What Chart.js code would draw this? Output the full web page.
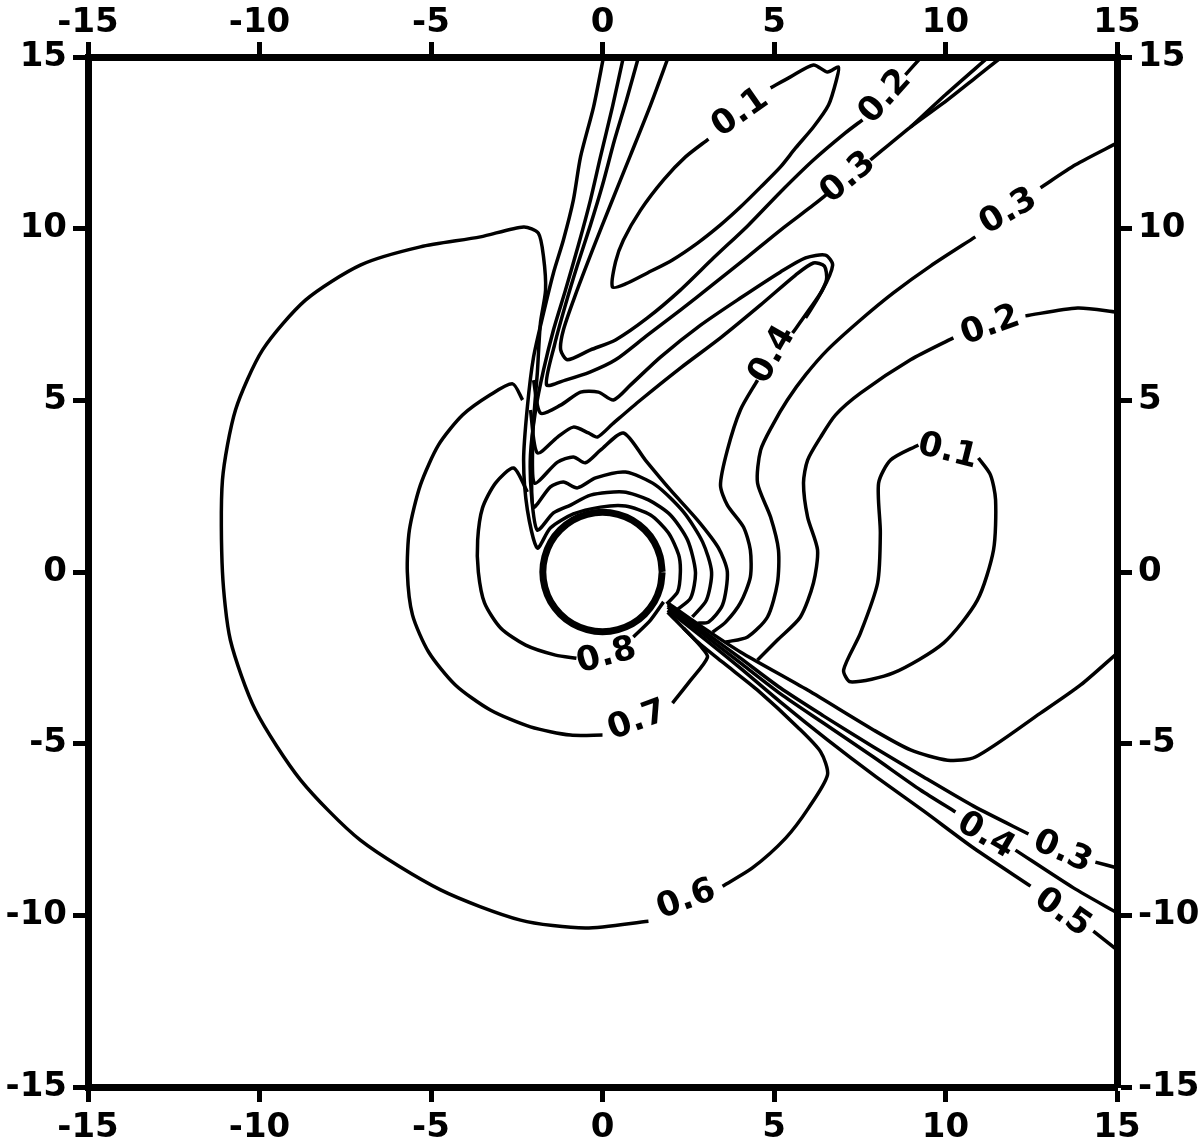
<!DOCTYPE html>
<html>
<head>
<meta charset="utf-8">
<script src="https://cdn.jsdelivr.net/npm/chart.js@4.4.1/dist/chart.umd.min.js"></script>
<style>
  html, body { margin: 0; padding: 0; background: #fff; }
  #wrap { width: 1200px; height: 1142px; }
</style>
</head>
<body>
<div id="wrap"><canvas id="contourChart"></canvas></div>
<script>
// contour lines, [x, y] pairs
const ring = [[1.74,0],[1.68,0.45],[1.51,0.87],[1.23,1.23],[0.87,1.51],[0.45,1.68],[0,1.74],[-0.45,1.68],[-0.87,1.51],[-1.23,1.23],[-1.51,0.87],[-1.68,0.45],[-1.74,0],[-1.68,-0.45],[-1.51,-0.87],[-1.23,-1.23],[-0.87,-1.51],[-0.45,-1.68],[0,-1.74],[0.45,-1.68],[0.87,-1.51],[1.23,-1.23],[1.51,-0.87],[1.68,-0.45],[1.74,0]];

const spikeA = [[0.03,15],[-0.26,13.55],[-0.64,12.09],[-0.85,10.83],[-1.14,9.67],[-1.43,8.71],[-1.72,7.54],[-2.01,6.26],[-2.19,4.81],[-2.30,3.26],[-2.19,1.81],[-1.90,0.70],[-1.52,1.28],[-0.85,1.69],[-0.06,1.89],[0.67,1.92],[1.40,1.66],[1.92,1.14],[2.22,0.50],[2.27,0],[2.19,-0.58],[1.87,-0.93]];
const spikeB = [[0.61,15],[0.29,13.55],[-0.06,12.09],[-0.35,10.84],[-0.70,9.53],[-1.08,8.21],[-1.43,7.05],[-1.72,5.88],[-1.95,4.72],[-2.10,3.41],[-2.07,2.24],[-1.90,1.22],[-1.43,1.72],[-0.93,1.95],[-0.35,2.24],[0.61,2.33],[1.34,2.10],[1.98,1.66],[2.48,0.93],[2.71,0],[2.57,-0.76],[2.16,-1.11]];

const c03uA = [[1.05,15],[0.70,13.75],[0.35,12.58],[0,11.27],[-0.35,10.11],[-0.73,8.94],[-1.08,7.78],[-1.40,6.61],[-1.63,5.45],[-1.08,5.59],[-0.35,5.83],[0.38,6.18],[1.31,6.90],[2.27,7.63],[3.24,8.39],[4.23,9.18],[5.19,9.96],[6.15,10.69],[6.59,11.04]];
const c03uB = [[7.81,12.0],[8.98,12.96],[10.06,13.75],[10.87,14.39],[11.60,14.97]];
const c03uTwin = [[8.98,12.96],[10.0,13.9],[11.22,14.97]];

const c02uA = [[1.92,15],[1.40,13.60],[0.82,12.15],[0.23,10.69],[-0.29,9.38],[-0.79,8.07],[-1.14,7.05],[-1.22,6.47],[-1.02,6.18],[-0.35,6.47],[0.38,6.76],[1.31,7.40],[2.27,8.21],[3.24,9.15],[4.23,10.08],[5.19,11.07],[6.15,12.0],[7.08,12.79],[7.58,13.17]];
const c02uB = [[8.83,14.48],[9.27,14.97]];

const c01u = [[4.90,14.10],[5.48,14.42],[6.15,14.77],[6.56,14.56],[6.88,14.71],[6.82,14.33],[6.59,13.60],[6.15,12.96],[5.63,12.35],[5.19,11.80],[4.61,11.21],[4.02,10.63],[3.44,10.11],[2.77,9.58],[2.04,9.09],[1.31,8.71],[0.67,8.39],[0.29,8.30],[0.38,9.03],[0.61,9.67],[1.11,10.54],[1.78,11.42],[2.42,12.09],[3.09,12.61]];

const c04A = [[-2.01,5.59],[-1.81,4.63],[-1.22,4.86],[-0.64,5.24],[-0.12,5.24],[0.32,5.01],[0.82,5.45],[1.69,6.26],[2.86,7.19],[4.02,7.98],[5.19,8.74],[5.92,9.15],[6.50,9.23],[6.71,8.94],[6.41,8.21],[5.92,7.49],[5.54,6.96]];
const c04B = [[4.52,5.59],[4.02,4.72],[3.64,3.55],[3.44,2.53],[3.64,1.95],[4.11,1.31],[4.31,0.64],[4.31,-0.15],[4.02,-0.90],[3.59,-1.46],[3.21,-1.75]];
const loopIn = [[-2.10,4.72],[-1.90,3.47],[-1.31,3.93],[-0.85,4.22],[-0.41,4.05],[-0.15,3.93],[0.29,4.31],[1.11,5.01],[2.27,5.94],[3.44,6.82],[4.61,7.78],[5.63,8.65],[6.15,9.00],[6.47,8.91],[6.53,8.51],[6.30,8.01],[5.92,7.40]];
const arcC = [[-2.04,3.84],[-1.98,2.59],[-1.31,3.20],[-0.85,3.35],[-0.50,3.18],[-0.06,3.55],[0.61,4.05],[1.25,3.26],[1.98,2.39],[2.77,1.51],[3.38,0.70],[3.64,0],[3.50,-0.96],[3.09,-1.46],[2.77,-1.49]];
const arcD = [[-2.07,2.97],[-2.01,1.89],[-1.52,2.48],[-1.14,2.62],[-0.73,2.45],[-0.20,2.74],[0.67,2.91],[1.55,2.53],[2.36,1.75],[2.92,0.87],[3.18,0],[3.03,-0.82],[2.62,-1.31]];

const c06A = [[1.90,-1.17],[2.71,-1.98],[3.53,-2.65],[4.52,-3.44],[5.69,-4.52],[6.36,-5.24],[6.56,-5.91],[6.01,-6.87],[5.34,-7.75],[4.37,-8.62],[3.50,-9.15]];
const c06B = [[1.34,-10.17],[-0.50,-10.37],[-2.39,-10.14],[-4.72,-9.26],[-7.06,-7.81],[-8.80,-6.06],[-10.12,-4.02],[-10.85,-1.98],[-11.08,0],[-11.08,2.68],[-10.70,4.72],[-9.91,6.47],[-8.66,7.92],[-7.06,8.94],[-5.31,9.47],[-3.56,9.76],[-2.30,10.05],[-1.87,9.87],[-1.72,9.18],[-1.66,8.21],[-1.81,7.25],[-1.90,5.80],[-2.01,4.43],[-2.07,3.41]];

const c07A = [[-2.33,5.01],[-2.62,5.48],[-3.27,5.16],[-4.08,4.57],[-4.78,3.70],[-5.31,2.53],[-5.63,1.22],[-5.69,0],[-5.54,-1.25],[-5.07,-2.33],[-4.29,-3.29],[-3.27,-4.02],[-2.10,-4.51],[-0.93,-4.75],[0,-4.75]];
const c07B = [[2.04,-3.82],[2.57,-3.15],[3.06,-2.48],[2.86,-2.16],[2.36,-1.63]];

const c08A = [[-2.19,2.33],[-2.59,3.03],[-3.12,2.59],[-3.50,1.86],[-3.64,0.93],[-3.62,0],[-3.44,-0.90],[-2.97,-1.63],[-2.24,-2.13],[-1.37,-2.42],[-0.76,-2.51]];
const c08B = [[0.90,-1.89],[1.40,-1.40],[1.78,-0.87]];

const c03rA = [[15.01,12.50],[13.79,11.86],[12.77,11.19]];
const c03rB = [[10.87,9.76],[9.56,8.91],[8.48,8.13],[7.52,7.34],[6.56,6.47],[5.92,5.74],[5.39,5.01],[4.96,4.28],[4.61,3.55],[4.52,2.59],[4.90,1.60],[5.13,0.64],[5.10,-0.32],[4.81,-1.31],[4.23,-1.89],[3.59,-2.04]];
const c02rA = [[15.01,7.57],[13.85,7.69],[12.33,7.46]];
const c02rB = [[10.23,6.82],[8.98,6.18],[7.52,5.21],[6.79,4.57],[6.36,3.93],[5.98,3.26],[5.86,2.59],[5.98,1.60],[6.27,0.64],[6.15,-0.32],[5.77,-1.31],[5.10,-1.98],[4.52,-2.56]];
const c01r = [[10.96,3.32],[11.31,2.83],[11.46,2.10],[11.40,0.64],[10.93,-0.82],[9.94,-2.07],[8.48,-2.94],[7.23,-3.20],[7.03,-2.85],[7.52,-1.78],[8.02,-0.32],[8.10,1.14],[8.05,2.59],[8.40,3.26],[9.21,3.70]];

const c02l = [[1.90,-0.90],[2.86,-1.57],[4.02,-2.33],[5.98,-3.44],[7.90,-4.60],[8.98,-5.18],[10.06,-5.48],[10.87,-5.39],[12.77,-4.11],[13.94,-3.29],[15.01,-2.36]];
const c03lA = [[1.90,-0.96],[2.86,-1.66],[4.02,-2.51],[5.19,-3.38],[6.44,-4.19],[7.90,-5.10],[9.36,-5.97],[10.82,-6.82],[12.42,-7.63]];
const c03lB = [[14.37,-8.45],[15.01,-8.62]];
const c04lA = [[1.90,-1.02],[2.86,-1.75],[4.02,-2.65],[5.19,-3.55],[6.44,-4.40],[7.90,-5.39],[9.27,-6.35],[10.29,-6.99]];
const c04lB = [[12.04,-8.10],[13.73,-9.20],[15.01,-9.93]];
const c05lA = [[1.90,-1.11],[2.86,-1.86],[4.02,-2.80],[5.19,-3.79],[6.56,-4.89],[7.90,-5.91],[9.36,-6.96],[10.82,-8.04],[12.48,-9.15]];
const c05lB = [[14.31,-10.46],[15.01,-11.01]];

// contour labels
const labelText  = ['0.1', '0.2', '0.3', '0.3', '0.4', '0.2', '0.1', '0.8', '0.7', '0.6', '0.4', '0.3', '0.5'];
const labelX     = [4.02, 8.25, 7.17, 11.84, 4.96, 11.31, 10.06, 0.12, 1.02, 2.45, 11.17, 13.41, 13.41];
const labelY     = [13.37, 13.84, 11.48, 10.49, 6.32, 7.17, 3.50, -2.45, -4.34, -9.55, -7.69, -8.16, -9.93];
const labelAngle = [-35, -48, -40, -30, -60, -20, 14, -15, -20, -20, 30, 24, 35];

const axisTicks = [-15, -10, -5, 0, 5, 10, 15];

const lines = [spikeA, spikeB, c03uA, c03uB, c03uTwin, c02uA, c02uB, c01u,
    c04A, c04B, loopIn, arcC, arcD, c06A, c06B, c07A, c07B, c08A, c08B,
    c03rA, c03rB, c02rA, c02rB, c01r, c02l, c03lA, c03lB, c04lA, c04lB, c05lA, c05lB];

const datasets = lines.map(pts => ({
    data: pts.map(p => ({ x: p[0], y: p[1] })),
    showLine: true,
    borderColor: '#000',
    borderWidth: 3.5,
    pointRadius: 0,
    tension: 0.25
}));
datasets.push({
    data: ring.map(p => ({ x: p[0], y: p[1] })),
    showLine: true,
    borderColor: '#000',
    borderWidth: 7,
    pointRadius: 0,
    tension: 0.4
});

const labelPlugin = {
    id: 'contourLabels',
    afterDatasetsDraw(chart) {
        const ctx = chart.ctx;
        const xs = chart.scales.x, ys = chart.scales.y;
        ctx.save();
        ctx.font = 'bold 34px "DejaVu Sans"';
        ctx.fillStyle = '#000';
        ctx.textAlign = 'center';
        ctx.textBaseline = 'middle';
        labelText.forEach((t, i) => {
            ctx.save();
            ctx.translate(xs.getPixelForValue(labelX[i]), ys.getPixelForValue(labelY[i]));
            ctx.rotate(labelAngle[i] * Math.PI / 180);
            ctx.fillText(t, 0, 0);
            ctx.restore();
        });
        ctx.restore();
    }
};

function axis(position, size, pad) {
    return {
        type: 'linear',
        position: position,
        min: axisTicks[0],
        max: axisTicks[axisTicks.length - 1],
        afterBuildTicks: scale => { scale.ticks = axisTicks.map(v => ({ value: v })); },
        ticks: {
            autoSkip: false,
            maxRotation: 0,
            color: '#000',
            padding: pad,
            font: { family: 'DejaVu Sans', size: 34, weight: 'bold' }
        },
        grid: { drawOnChartArea: false, tickLength: 15, tickWidth: 5, tickColor: '#000' },
        border: { display: true, width: 7, color: '#000' },
        afterFit: scale => {
            if (scale.isHorizontal()) scale.height = size;
            else scale.width = size;
        }
    };
}

new Chart(document.getElementById('contourChart'), {
    type: 'scatter',
    data: { datasets: datasets },
    options: {
        responsive: true,
        maintainAspectRatio: false,
        animation: false,
        layout: { padding: 0 },
        plugins: { legend: { display: false }, tooltip: { enabled: false } },
        scales: {
            x: axis('bottom', 55, 6),
            x2: axis('top', 57, -2),
            y: axis('left', 88, 6),
            y2: axis('right', 83, 6)
        }
    },
    plugins: [labelPlugin]
});
</script>
</body>
</html>
